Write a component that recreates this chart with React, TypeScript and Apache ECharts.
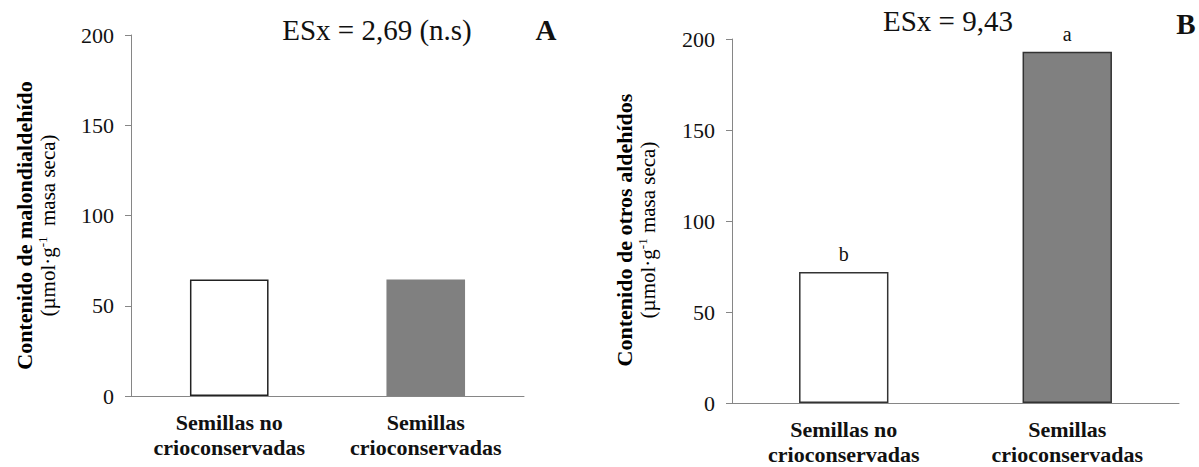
import React, { useEffect, useRef } from "react";
import * as echarts from "echarts";

const categories = ["Semillas no\ncrioconservadas", "Semillas\ncrioconservadas"];
const malondialdehido = [64.5, 64.5];
const otrosAldehidos = [72, 193];
const letrasB = ["b", "a"];
const yTicks = [0, 50, 100, 150, 200];

const SERIF = "Liberation Serif, serif";
const AXIS_GRAY = "#868686";
const BAR_GRAY = "#808080";

export default function App() {
  const ref = useRef<HTMLDivElement>(null);

  useEffect(() => {
    document.body.style.margin = "0";
    const chart = echarts.init(ref.current!, null, { renderer: "svg" });

    const yAxisBase = (gridIndex: number) => ({
      type: "value" as const,
      gridIndex,
      min: yTicks[0],
      max: yTicks[yTicks.length - 1],
      interval: yTicks[1] - yTicks[0],
      axisLine: { show: true, lineStyle: { color: AXIS_GRAY, width: 1 } },
      axisTick: { show: true, length: 6, lineStyle: { color: AXIS_GRAY } },
      splitLine: { show: false },
      axisLabel: { fontFamily: SERIF, fontSize: 22, color: "#111", margin: 17 },
    });

    const xAxisBase = (gridIndex: number) => ({
      type: "category" as const,
      gridIndex,
      data: categories,
      axisLine: { show: true, lineStyle: { color: AXIS_GRAY, width: 1 } },
      axisTick: { show: false },
      axisLabel: {
        fontFamily: SERIF,
        fontSize: 22,
        fontWeight: "bold",
        color: "#111",
        lineHeight: 25,
        margin: 14,
        interval: 0,
      },
    });

    const rich = {
      b: { fontFamily: SERIF, fontSize: 22, fontWeight: "bold", color: "#111", lineHeight: 23 },
      n: { fontFamily: SERIF, fontSize: 21, color: "#111", lineHeight: 23 },
      s: { fontFamily: SERIF, fontSize: 13, color: "#111", lineHeight: 23, verticalAlign: "top" },
    };

    chart.setOption({
      animation: false,
      backgroundColor: "#ffffff",
      grid: [
        { left: 131, top: 35, width: 393, height: 361 },
        { left: 732, top: 39, width: 447, height: 366 },
      ],
      xAxis: [xAxisBase(0), xAxisBase(1)],
      yAxis: [yAxisBase(0), yAxisBase(1)],
      series: [
        {
          type: "bar",
          xAxisIndex: 0,
          yAxisIndex: 0,
          barWidth: "40%",
          data: malondialdehido.map((v, i) => ({
            value: v,
            itemStyle:
              i === 0
                ? { color: "#ffffff", borderColor: "#222", borderWidth: 1.5 }
                : { color: BAR_GRAY, borderWidth: 0 },
          })),
        },
        {
          type: "bar",
          xAxisIndex: 1,
          yAxisIndex: 1,
          barWidth: "40%",
          data: otrosAldehidos.map((v, i) => ({
            value: v,
            itemStyle:
              i === 0
                ? { color: "#ffffff", borderColor: "#333", borderWidth: 1.5 }
                : { color: BAR_GRAY, borderColor: "#333", borderWidth: 1.5 },
          })),
          label: {
            show: true,
            position: "top",
            distance: 8,
            fontFamily: SERIF,
            fontSize: 20,
            color: "#111",
            formatter: (p: any) => letrasB[p.dataIndex],
          },
        },
      ],
      graphic: [
        {
          type: "text",
          x: 36,
          y: 225.5,
          rotation: Math.PI / 2,
          style: {
            text: "{b|Contenido de malondialdehído}\n{n|(µmol·g}{s|-1}{n|  masa seca)}",
            rich,
            fontFamily: SERIF,
            align: "center",
            verticalAlign: "middle",
          },
        },
        {
          type: "text",
          x: 636,
          y: 230,
          rotation: Math.PI / 2,
          style: {
            text: "{b|Contenido de otros aldehídos}\n{n|(µmol·g}{s|-1}{n| masa seca)}",
            rich,
            fontFamily: SERIF,
            align: "center",
            verticalAlign: "middle",
          },
        },
        {
          type: "text",
          x: 377,
          y: 30,
          style: {
            text: "ESx = 2,69 (n.s)",
            fontFamily: SERIF,
            fontSize: 29,
            fill: "#111",
            align: "center",
            verticalAlign: "middle",
          },
        },
        {
          type: "text",
          x: 546,
          y: 30,
          style: {
            text: "A",
            fontFamily: SERIF,
            fontSize: 29,
            fontWeight: "bold",
            fill: "#111",
            align: "center",
            verticalAlign: "middle",
          },
        },
        {
          type: "text",
          x: 948,
          y: 21,
          style: {
            text: "ESx = 9,43",
            fontFamily: SERIF,
            fontSize: 29,
            fill: "#111",
            align: "center",
            verticalAlign: "middle",
          },
        },
        {
          type: "text",
          x: 1186,
          y: 24,
          style: {
            text: "B",
            fontFamily: SERIF,
            fontSize: 29,
            fontWeight: "bold",
            fill: "#111",
            align: "center",
            verticalAlign: "middle",
          },
        },
      ],
    });

    return () => chart.dispose();
  }, []);

  return <div ref={ref} style={{ width: 1199, height: 467 }} />;
}
